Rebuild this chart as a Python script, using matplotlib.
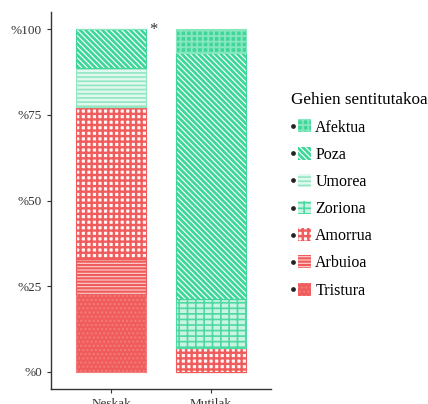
import numpy as np
import matplotlib
matplotlib.use("Agg")
import matplotlib.pyplot as plt
from matplotlib.patches import Patch, Rectangle
from matplotlib.lines import Line2D
from matplotlib.legend_handler import HandlerBase

plt.rcParams['font.family'] = ['Liberation Serif', 'DejaVu Serif']

# data: share (%) of each emotion per group
groups = ['Neskak', 'Mutilak']
emotions = ['Tristura', 'Arbuioa', 'Amorrua', 'Zoriona', 'Umorea', 'Poza', 'Afektua']
neskak = [22.7, 10.3, 44.3, 0.0, 11.4, 11.3, 0.0]
mutilak = [0.0, 0.0, 6.9, 14.5, 0.0, 71.5, 7.1]
yticks = [0, 25, 50, 75, 100]
ytick_labels = ['%0', '%25', '%50', '%75', '%100']

red = '#F05C5C'
green = '#3FD69A'
styles = {
    'Tristura': dict(face=red, edge='#F47C7C', hatch='....', lw=1.0),
    'Arbuioa': dict(face='#FBD3D3', edge=red, hatch='-----', lw=1.6),
    'Amorrua': dict(face='#FFF4F4', edge=red, hatch='+++', lw=1.7),
    'Zoriona': dict(face='#C9F3E2', edge='#4FD9A2', hatch='---||', lw=1.2),
    'Umorea': dict(face='#E0F8EE', edge='#92E6C2', hatch='----', lw=1.2),
    'Poza': dict(face='white', edge=green, hatch='\\\\\\\\\\\\', lw=2.0),
    'Afektua': dict(face=green, edge='#86E6BD', hatch='+++', lw=1.4),
}


class BulletPatchHandler(HandlerBase):
    def create_artists(self, legend, orig_handle, xdescent, ydescent,
                       width, height, fontsize, trans):
        dot = Line2D([-xdescent + 0.06 * width], [-ydescent + height / 2],
                     marker='o', ms=2.4, color='#222222', ls='',
                     transform=trans)
        with plt.rc_context({'hatch.linewidth': orig_handle._lw}):
            rect = Rectangle((-xdescent + 0.34 * width, -ydescent - 0.08 * height),
                             0.66 * width, 1.16 * height,
                             facecolor=orig_handle.get_facecolor(),
                             edgecolor=orig_handle.get_edgecolor(),
                             hatch=orig_handle.get_hatch(), linewidth=0,
                             transform=trans)
        return [dot, rect]


fig = plt.figure(figsize=(4.28, 4.04), dpi=100)
ax = fig.add_axes([51 / 428, 15 / 404, 220 / 428, 377 / 404])

x = np.arange(1, len(groups) + 1)
vals = np.array([neskak, mutilak])
bottom = np.zeros(len(groups))
for i, emo in enumerate(emotions):
    st = styles[emo]
    h = vals[:, i]
    with plt.rc_context({'hatch.linewidth': st['lw']}):
        ax.bar(x, h, bottom=bottom, width=0.7, color=st['face'],
               edgecolor=st['edge'], hatch=st['hatch'], linewidth=0.8)
    bottom += h

ax.text(1.42, 99.8, '*', fontsize=12, ha='center', va='center', color='#333333')

ax.set_xlim(0.4, 2.6)
ax.set_ylim(-5, 105)
ax.set_xticks(x)
ax.set_xticklabels(groups, fontsize=9.5)
ax.set_yticks(yticks)
ax.set_yticklabels(ytick_labels, fontsize=9.5)
for s in ['top', 'right']:
    ax.spines[s].set_visible(False)
for s in ['left', 'bottom']:
    ax.spines[s].set_color('#333333')
    ax.spines[s].set_linewidth(1.0)
ax.tick_params(colors='#333333', length=3, labelcolor='#333333')

handles = []
for emo in reversed(emotions):
    st = styles[emo]
    p = Patch(facecolor=st['face'], edgecolor=st['edge'], hatch=st['hatch'])
    p._lw = st['lw']
    handles.append(p)
leg = ax.legend(handles, list(reversed(emotions)), title='Gehien sentitutakoa',
                handler_map={Patch: BulletPatchHandler()},
                loc='upper left', bbox_to_anchor=(277 / 428, 1 - 78 / 404),
                bbox_transform=fig.transFigure, frameon=False,
                fontsize=11.5, title_fontsize=12.3, labelspacing=0.7,
                handlelength=1.2, handleheight=0.7, handletextpad=0.3,
                alignment='left')

fig.savefig('out.png', dpi=100)
